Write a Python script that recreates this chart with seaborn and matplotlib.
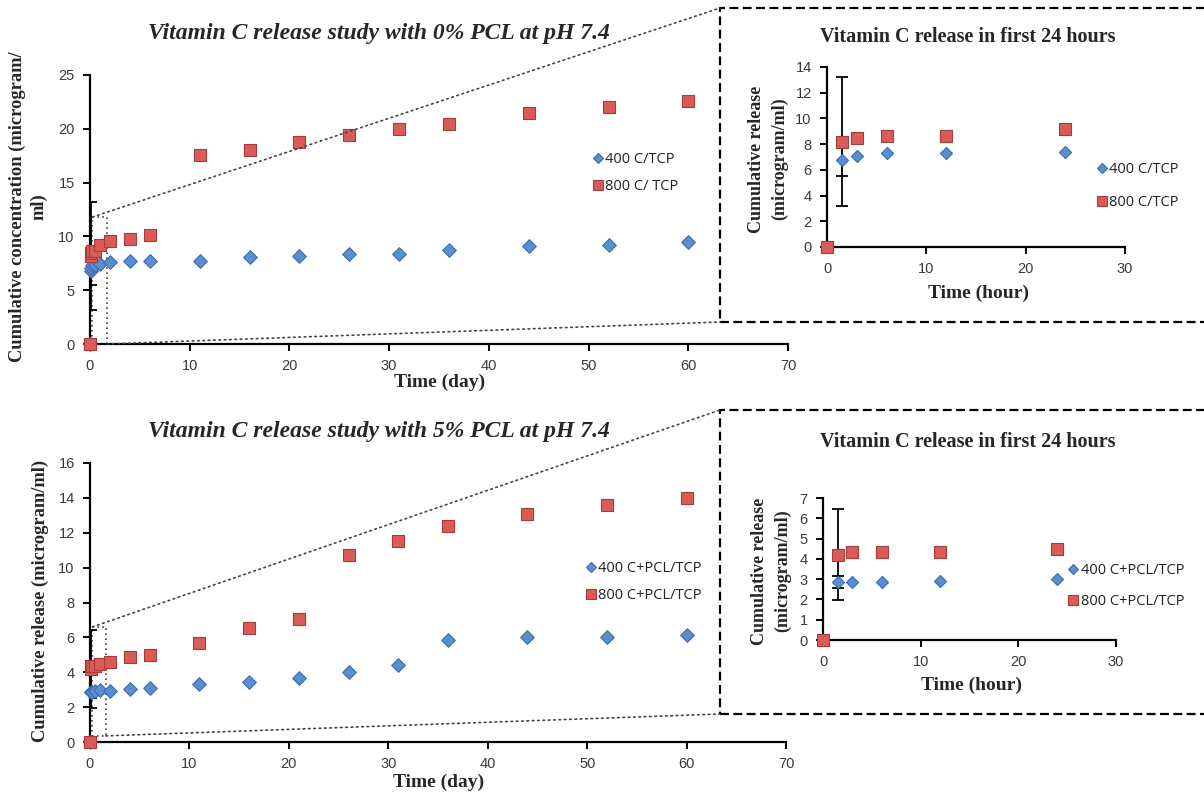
import numpy as np
import pandas as pd
import matplotlib
matplotlib.use("Agg")
import matplotlib.pyplot as plt
import seaborn as sns
from matplotlib.patches import Rectangle, ConnectionPatch
from matplotlib.lines import Line2D

# ---------------- data ----------------
hours_first24 = [0, 1.5, 3, 6, 12, 24]
days_later = [2, 4, 6, 11, 16, 21, 26, 31, 36, 44, 52, 60]

# 0% PCL
pcl0_400_first24 = [0, 6.8, 7.1, 7.3, 7.3, 7.4]
pcl0_800_first24 = [0, 8.2, 8.5, 8.6, 8.6, 9.2]
pcl0_400_later = [7.6, 7.7, 7.7, 7.7, 8.1, 8.2, 8.4, 8.4, 8.7, 9.1, 9.2, 9.5]
pcl0_800_later = [9.6, 9.8, 10.1, 17.6, 18.0, 18.8, 19.4, 20.0, 20.4, 21.5, 22.0, 22.6]
pcl0_400_err = [0, 1.3, 0, 0, 0, 0]
pcl0_800_err = [0, 5.0, 0, 0, 0, 0]

# 5% PCL
pcl5_400_first24 = [0, 2.85, 2.85, 2.85, 2.9, 3.0]
pcl5_800_first24 = [0, 4.2, 4.35, 4.35, 4.35, 4.5]
pcl5_400_later = [2.95, 3.05, 3.1, 3.3, 3.45, 3.65, 4.0, 4.4, 5.85, 6.0, 6.0, 6.15]
pcl5_800_later = [4.6, 4.85, 5.0, 5.7, 6.55, 7.05, 10.7, 11.55, 12.4, 13.1, 13.6, 14.0]
pcl5_400_err = [0, 0.3, 0, 0, 0, 0]
pcl5_800_err = [0, 2.25, 0, 0, 0, 0]

labels_top = ["400 C/TCP", "800 C/ TCP"]
labels_top_inset = ["400 C/TCP", "800 C/TCP"]
labels_bot = ["400 C+PCL/TCP", "800 C+PCL/TCP"]

main_titles = ["Vitamin C release study with 0% PCL at pH 7.4",
               "Vitamin C release study with 5% PCL at pH 7.4"]
inset_title = "Vitamin C release in first 24 hours"

# ---------------- style ----------------
sns.set_theme(style="white")
plt.rcParams["font.family"] = ["Liberation Sans", "DejaVu Sans"]
SERIF = ["Liberation Serif", "DejaVu Serif"]
BLUE_FC, BLUE_EC = "#5A8ED0", "#3B6DAE"
RED_FC, RED_EC = "#DA5B57", "#A83A37"
TICKC = "#3a3a3a"

W, H = 1204, 798
fig = plt.figure(figsize=(W / 100, H / 100), dpi=100)


def fx(px):
    return px / W


def fy(py):
    return 1 - py / H


def style_axes(ax, fs=10.5):
    sns.despine(ax=ax)
    for s in ["left", "bottom"]:
        ax.spines[s].set_color("black")
        ax.spines[s].set_linewidth(1.6)
    ax.tick_params(axis="both", which="major", direction="out", length=5,
                   width=1.4, color="black", labelsize=fs, labelcolor=TICKC,
                   left=True, bottom=True, pad=6)


def draw_series(ax, x, y400, y800, e400, e800, s_d, s_s, capsize):
    df = pd.DataFrame({"x": list(x) * 2, "y": list(y400) + list(y800),
                       "series": ["400"] * len(x) + ["800"] * len(x)})
    err = np.array(list(e400) + list(e800))
    m = err > 0
    ax.errorbar(df["x"][m], df["y"][m], yerr=err[m], fmt="none", ecolor="black",
                elinewidth=1.3, capsize=capsize, capthick=1.3, zorder=2)
    sns.scatterplot(data=df[df.series == "400"], x="x", y="y", marker="D",
                    s=s_d, color=BLUE_FC, edgecolor=BLUE_EC, linewidth=0.8,
                    ax=ax, zorder=3, clip_on=False)
    sns.scatterplot(data=df[df.series == "800"], x="x", y="y", marker="s",
                    s=s_s, color=RED_FC, edgecolor=RED_EC, linewidth=0.8,
                    ax=ax, zorder=4, clip_on=False)


def add_legend(ax, labels, anchor, s_d, s_s, spacing, fs=10.5):
    h = [Line2D([], [], ls="none", marker="D", ms=np.sqrt(s_d) * 0.8,
                mfc=BLUE_FC, mec=BLUE_EC, mew=0.8),
         Line2D([], [], ls="none", marker="s", ms=np.sqrt(s_s) * 0.85,
                mfc=RED_FC, mec=RED_EC, mew=0.8)]
    leg = ax.legend(h, labels, loc="upper left", bbox_to_anchor=anchor,
                    frameon=False, handlelength=0.7, handletextpad=0.15,
                    labelspacing=spacing, borderaxespad=0, borderpad=0,
                    prop={"family": ["Open Sans", "DejaVu Sans"], "size": fs})
    for t in leg.get_texts():
        t.set_color("#222222")


panels = [
    dict(first=(pcl0_400_first24, pcl0_800_first24), later=(pcl0_400_later, pcl0_800_later),
         err=(pcl0_400_err, pcl0_800_err), title=main_titles[0],
         main_box=(90, 75, 788, 344), ymax=25, ystep=5,
         ylabel="Cumulative concentration (microgram/\nml)", ylab_x=28, ylab_dy=-3,
         title_y=33, leg_main=(0.72, 0.715), leg_main_sp=0.85, labels_main=labels_top,
         frame=(720, 8, 1230, 322), inset_box=(827, 67, 1125, 247), iymax=14, iystep=2,
         ititle_y=37, leg_inset=(0.905, 0.47), leg_inset_sp=1.2, labels_inset=labels_top_inset,
         iylab_x=768, zoom=(0.25, 0.0, 1.7, 11.8), xlab_y=382, ixlab_y=293),
    dict(first=(pcl5_400_first24, pcl5_800_first24), later=(pcl5_400_later, pcl5_800_later),
         err=(pcl5_400_err, pcl5_800_err), title=main_titles[1],
         main_box=(90, 463, 786, 742), ymax=16, ystep=2,
         ylabel="Cumulative release (microgram/ml)", ylab_x=40, ylab_dy=-2,
         title_y=432, leg_main=(0.712, 0.65), leg_main_sp=0.85, labels_main=labels_bot,
         frame=(720, 410, 1230, 714), inset_box=(823, 498, 1116, 640), iymax=7, iystep=1,
         ititle_y=442, leg_inset=(0.837, 0.545), leg_inset_sp=1.15, labels_inset=labels_bot,
         iylab_x=771, zoom=(0.25, 0.35, 1.6, 6.6), xlab_y=782, ixlab_y=685),
]

for p in panels:
    # ---- main axes ----
    l, t, r, b = p["main_box"]
    ax = fig.add_axes([fx(l), fy(b), fx(r) - fx(l), fy(t) - fy(b)])
    x_days = [h / 24 for h in hours_first24] + days_later
    y400 = list(p["first"][0]) + list(p["later"][0])
    y800 = list(p["first"][1]) + list(p["later"][1])
    e400 = list(p["err"][0]) + [0] * len(days_later)
    e800 = list(p["err"][1]) + [0] * len(days_later)
    draw_series(ax, x_days, y400, y800, e400, e800, s_d=48, s_s=78, capsize=4)
    ax.set_xlim(0, 70)
    ax.set_ylim(0, p["ymax"])
    ax.set_xticks(range(0, 71, 10))
    ax.set_yticks(range(0, p["ymax"] + 1, p["ystep"]))
    style_axes(ax)
    ax.set_xlabel("")
    ax.set_ylabel("")
    fig.text(fx((l + r) / 2 + 1), fy(p["xlab_y"]), "Time (day)", ha="center", va="center",
             family=SERIF, weight="bold", fontsize=14)
    fig.text(fx(p["ylab_x"]), fy((t + b) / 2 + p["ylab_dy"]), p["ylabel"], ha="center",
             va="center", rotation=90, family=SERIF, weight="bold", fontsize=13.3,
             linespacing=1.25)
    fig.text(fx(379), fy(p["title_y"]), p["title"], ha="center", va="center",
             family=SERIF, weight="bold", style="italic", fontsize=17)
    add_legend(ax, p["labels_main"], p["leg_main"], 48, 78, p["leg_main_sp"])

    # zoom rectangle (dotted) in data coords
    zx0, zy0, zx1, zy1 = p["zoom"]
    ax.add_patch(Rectangle((zx0, zy0), zx1 - zx0, zy1 - zy0, fill=False, ls=(0, (1, 2)),
                           lw=1.2, ec="#444444", zorder=1, clip_on=False))

    # ---- inset frame (dashed) ----
    fl, ft, fr, fb = p["frame"]
    fig.add_artist(Rectangle((fx(fl), fy(fb)), fx(fr) - fx(fl), fy(ft) - fy(fb),
                             transform=fig.transFigure, fill=False, ls=(0, (4, 2)),
                             lw=1.6, ec="black", clip_on=False))
    for xyA, xyB in [((zx0, zy1), (fx(fl), fy(ft))), ((zx1, zy0), (fx(fl), fy(fb)))]:
        cp = ConnectionPatch(xyA=xyA, coordsA="data", axesA=ax, xyB=xyB,
                             coordsB="figure fraction", ls=(0, (1, 2.2)), lw=1.2,
                             color="#444444", zorder=1)
        fig.add_artist(cp)

    # ---- inset axes ----
    il, it, ir, ib = p["inset_box"]
    iax = fig.add_axes([fx(il), fy(ib), fx(ir) - fx(il), fy(it) - fy(ib)])
    draw_series(iax, hours_first24, p["first"][0], p["first"][1],
                p["err"][0], p["err"][1], s_d=38, s_s=66, capsize=4)
    iax.set_xlim(0, 30)
    iax.set_ylim(0, p["iymax"])
    iax.set_xticks([0, 10, 20, 30])
    iax.set_yticks(range(0, p["iymax"] + 1, p["iystep"]))
    style_axes(iax, fs=10.5)
    iax.set_xlabel("")
    iax.set_ylabel("")
    fig.text(fx((il + ir) / 2 + 2), fy(p["ixlab_y"]), "Time (hour)", ha="center", va="center",
             family=SERIF, weight="bold", fontsize=14)
    fig.text(fx(p["iylab_x"]), fy((it + ib) / 2 + 2), "Cumulative release\n(microgram/ml)",
             ha="center", va="center", rotation=90, family=SERIF, weight="bold",
             fontsize=13, linespacing=1.45)
    fig.text(fx(968), fy(p["ititle_y"]), inset_title, ha="center", va="center",
             family=SERIF, weight="bold", fontsize=14.5)
    add_legend(iax, p["labels_inset"], p["leg_inset"], 38, 66, p["leg_inset_sp"])

fig.savefig("out.png", dpi=100)
